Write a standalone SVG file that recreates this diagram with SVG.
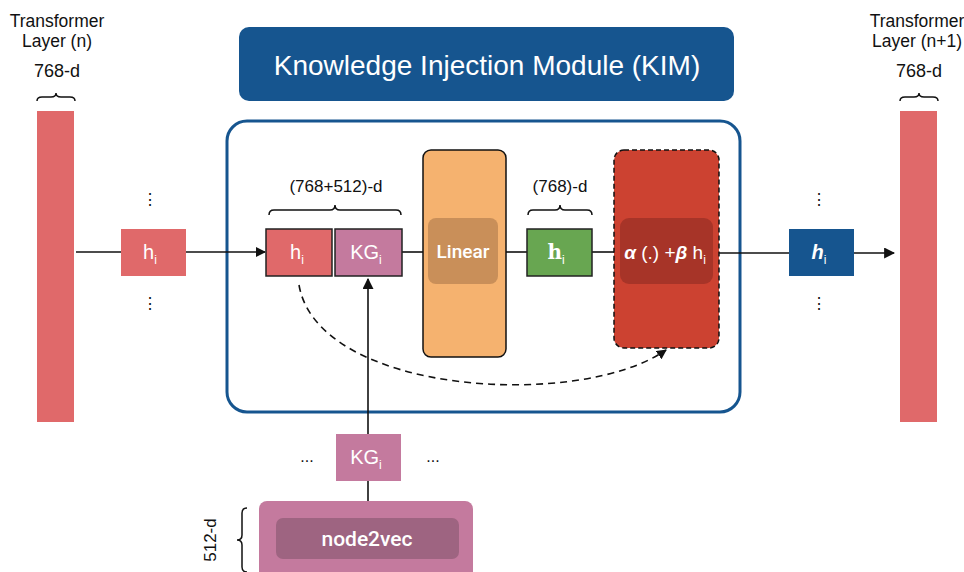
<svg xmlns="http://www.w3.org/2000/svg" width="964" height="572" viewBox="0 0 964 572">
<style>
.t{font-family:"Liberation Sans",Arial,sans-serif;fill:#111;}
.w{font-family:"Liberation Sans",Arial,sans-serif;fill:#fff;}
.brace{fill:none;stroke:#111;stroke-width:1.5;}
.ln{fill:none;stroke:#111;stroke-width:1.6;}
.red{fill:#E0696A;}
.kg{fill:#C47A9E;}
.blue{fill:#16558F;}
.bx{stroke:#222;stroke-width:1.5;}
</style>
<defs>
<marker id="ah" viewBox="0 0 10 10" refX="9" refY="5" markerWidth="10" markerHeight="10" markerUnits="userSpaceOnUse" orient="auto">
<path d="M0,0 L10,5 L0,10 z" fill="#111"/>
</marker>
<marker id="ah2" viewBox="0 0 10 10" refX="9" refY="5" markerWidth="11" markerHeight="11" markerUnits="userSpaceOnUse" orient="auto">
<path d="M0,0 L10,5 L0,10 z" fill="#111"/>
</marker>
</defs>
<rect width="964" height="572" fill="#fff"/>

<g id="layer-n">
<text class="t" x="57" y="27" font-size="17.5" text-anchor="middle">Transformer</text>
<text class="t" x="57" y="47" font-size="17.5" text-anchor="middle">Layer (n)</text>
<text class="t" x="57" y="77" font-size="18" text-anchor="middle">768-d</text>
<path class="brace" d="M37,101 Q37,97 42,97 L51,97 Q56,97 56,93 Q56,97 61,97 L70,97 Q75,97 75,101"/>
<rect class="red" x="37" y="111" width="37" height="311"/>
</g>

<g id="layer-n1">
<text class="t" x="917" y="27" font-size="17.5" text-anchor="middle">Transformer</text>
<text class="t" x="917" y="47" font-size="17.5" text-anchor="middle">Layer (n+1)</text>
<text class="t" x="919" y="77" font-size="18" text-anchor="middle">768-d</text>
<path class="brace" d="M900,101 Q900,97 905,97 L914,97 Q919,97 919,93 Q919,97 924,97 L933,97 Q938,97 938,101"/>
<rect class="red" x="900" y="111" width="37" height="311"/>
</g>

<g id="kim-title">
<rect class="blue" x="239" y="27" width="495" height="74" rx="10"/>
<text class="w" x="487" y="75" font-size="28" text-anchor="middle">Knowledge Injection Module (KIM)</text>
</g>

<g id="kim-box">
<rect x="227" y="121" width="513" height="291" rx="20" fill="none" stroke="#16558F" stroke-width="3"/>
</g>

<g id="connectors">
<line class="ln" x1="76" y1="252" x2="121" y2="252"/>
<line class="ln" x1="186" y1="252" x2="265" y2="252" marker-end="url(#ah)"/>
<line class="ln" x1="402" y1="252" x2="423" y2="252"/>
<line class="ln" x1="506" y1="252" x2="527" y2="252"/>
<line class="ln" x1="592" y1="252" x2="614" y2="252"/>
<line class="ln" x1="719" y1="253" x2="789" y2="253"/>
<line class="ln" x1="854" y1="253" x2="894" y2="253" marker-end="url(#ah2)"/>
<line class="ln" x1="368" y1="434" x2="368" y2="279" marker-end="url(#ah2)"/>
<line class="ln" x1="368" y1="481" x2="368" y2="501"/>
<path d="M299,285 C318,395 580,410 666,350" fill="none" stroke="#111" stroke-width="1.6" stroke-dasharray="7,5" marker-end="url(#ah)"/>
</g>

<g id="hi-left">
<text class="t" x="150" y="205" font-size="16" text-anchor="middle">⋮</text>
<rect class="red" x="121" y="229" width="65" height="47"/>
<text class="w" x="150" y="259" font-size="20" text-anchor="middle">h<tspan font-size="12" dy="5">i</tspan></text>
<text class="t" x="150" y="309" font-size="16" text-anchor="middle">⋮</text>
</g>

<g id="concat">
<text class="t" x="336" y="192" font-size="17" text-anchor="middle">(768+512)-d</text>
<path class="brace" d="M269,215 Q269,210 274,210 L330,210 Q335,210 335,205 Q335,210 340,210 L396,210 Q401,210 401,215"/>
<rect class="red bx" x="266" y="229" width="66" height="47"/>
<text class="w" x="297" y="259" font-size="20" text-anchor="middle">h<tspan font-size="12" dy="5">i</tspan></text>
<rect class="kg bx" x="335" y="229" width="67" height="47"/>
<text class="w" x="366" y="259" font-size="20" text-anchor="middle">KG<tspan font-size="12" dy="5">i</tspan></text>
</g>

<g id="linear">
<rect x="423" y="150" width="83" height="207" rx="8" fill="#F5B26F" stroke="#111" stroke-width="1.5"/>
<rect x="428" y="218" width="70" height="66" rx="8" fill="#C98F59"/>
<text x="463" y="258" font-size="19" font-weight="500" text-anchor="middle" fill="#fff" font-family="Roboto,'Liberation Sans',sans-serif">Linear</text>
</g>

<g id="hbar">
<text class="t" x="560" y="192" font-size="17" text-anchor="middle">(768)-d</text>
<path class="brace" d="M528,215 Q528,210 533,210 L555,210 Q560,210 560,205 Q560,210 565,210 L587,210 Q592,210 592,215"/>
<rect class="bx" x="527" y="229" width="65" height="47" fill="#68A651"/>
<text x="556" y="259" font-size="20" font-weight="bold" text-anchor="middle" fill="#fff" font-family="'DejaVu Serif',serif">h<tspan font-size="12" dy="5" font-weight="normal" font-family="'Liberation Sans',sans-serif">i</tspan></text>
</g>

<g id="gate">
<rect x="614" y="150" width="105" height="198" rx="10" fill="#CC4231" stroke="#111" stroke-width="1.5" stroke-dasharray="5,3"/>
<rect x="620" y="218" width="93" height="66" rx="9" fill="#A73428"/>
<text class="w" x="665" y="259" font-size="19" text-anchor="middle"><tspan font-weight="bold" font-style="italic">α</tspan> (.) +<tspan font-weight="bold" font-style="italic">β</tspan> h<tspan font-size="12" dy="5">i</tspan></text>
</g>

<g id="hi-right">
<text class="t" x="819" y="205" font-size="16" text-anchor="middle">⋮</text>
<rect class="blue" x="789" y="229" width="65" height="47"/>
<text class="w" x="819" y="259" font-size="20" font-weight="bold" font-style="italic" text-anchor="middle">h<tspan font-size="12" dy="5" font-weight="normal" font-style="normal">i</tspan></text>
<text class="t" x="819" y="309" font-size="16" text-anchor="middle">⋮</text>
</g>

<g id="kg-bottom">
<text class="t" x="307" y="462" font-size="16" text-anchor="middle">...</text>
<rect class="kg" x="336" y="434" width="65" height="47"/>
<text class="w" x="366" y="464" font-size="20" text-anchor="middle">KG<tspan font-size="12" dy="5">i</tspan></text>
<text class="t" x="433" y="462" font-size="16" text-anchor="middle">...</text>
</g>

<g id="node2vec">
<rect class="kg" x="259" y="501" width="214" height="90" rx="8"/>
<rect x="276" y="518" width="183" height="41" rx="7" fill="#9E6481"/>
<text x="367" y="546" font-size="21" font-weight="500" text-anchor="middle" fill="#fff" font-family="Roboto,'Liberation Sans',sans-serif">node2vec</text>
<path class="brace" d="M247,508 Q242,508 242,513 L242,535 Q242,540 237,540 Q242,540 242,545 L242,567 Q242,572 247,572"/>
<text class="t" x="216" y="540" font-size="17" text-anchor="middle" transform="rotate(-90 216 540)">512-d</text>
</g>
</svg>
